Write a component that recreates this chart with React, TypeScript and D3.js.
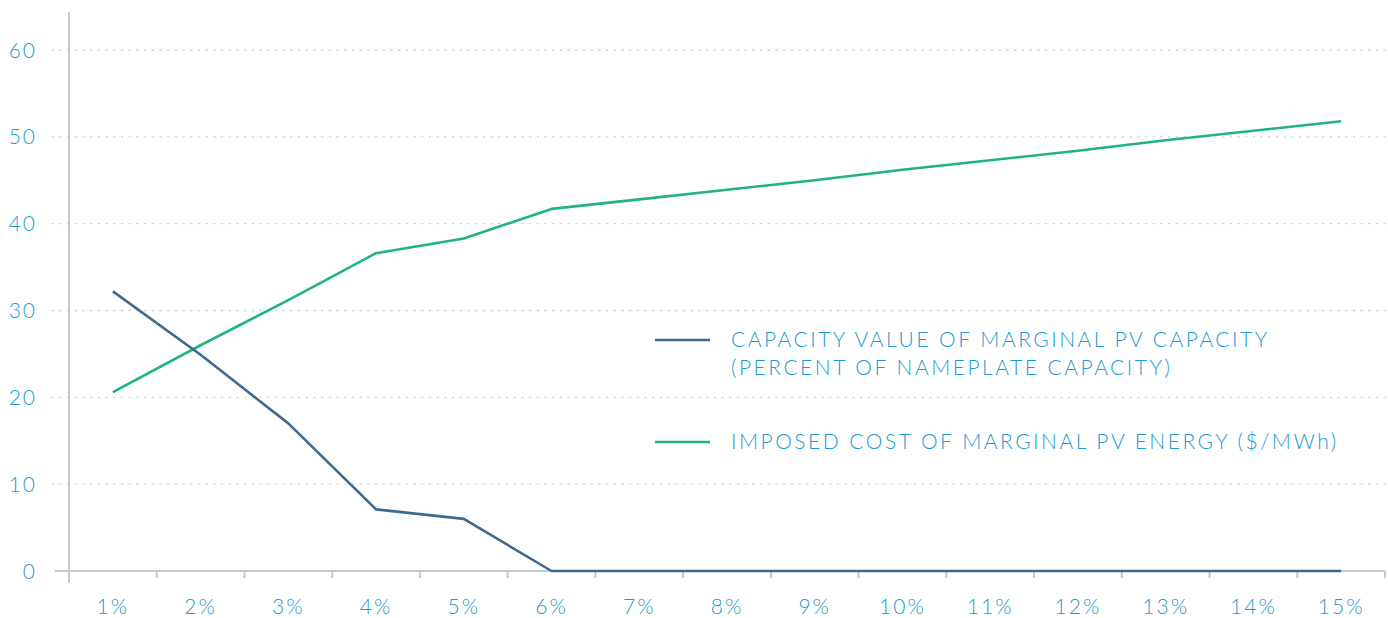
import React from "react";
import * as d3 from "d3";

// categories along the bottom
const penetration = ["1%", "2%", "3%", "4%", "5%", "6%", "7%", "8%", "9%", "10%", "11%", "12%", "13%", "14%", "15%"];

// capacity value of marginal PV capacity (% of nameplate)
const capacityValue = [32.2, 24.9, 17.0, 7.1, 6.0, 0, 0, 0, 0, 0, 0, 0, 0, 0, 0];

// imposed cost of marginal PV energy ($/MWh)
const imposedCost = [20.6, 26.0, 31.2, 36.6, 38.3, 41.7, 42.8, 43.9, 45.0, 46.2, 47.3, 48.4, 49.6, 50.7, 51.8];

const yTicks = [0, 10, 20, 30, 40, 50, 60];

const legendItems = [
  { lines: ["CAPACITY VALUE OF MARGINAL PV CAPACITY", "(PERCENT OF NAMEPLATE CAPACITY)"], color: "#3d6a8e" },
  { lines: ["IMPOSED COST OF MARGINAL PV ENERGY ($/MWh)"], color: "#22b57a" },
];

const W = 1388;
const H = 618;
const TEXT = "#1d9ad3";
const AXIS = "#c9c9d1";
const FONT = "Lato, 'Open Sans', sans-serif";

export default function App() {
  const x = d3.scaleBand<string>().domain(penetration).range([69, 1385]).padding(0);
  const y = d3.scaleLinear().domain([0, 60]).range([571, 50]);
  const cx = (c: string) => (x(c) ?? 0) + x.bandwidth() / 2;

  const line = d3
    .line<number>()
    .x((_, i) => cx(penetration[i]))
    .y((d) => y(d));

  return (
    <svg width={W} height={H} style={{ position: "absolute", left: 0, top: 0, background: "#fff" }} fontFamily={FONT}>
      {/* dotted gridlines */}
      {yTicks.slice(1).map((t) => (
        <line key={t} x1={52} x2={W} y1={y(t)} y2={y(t)} stroke="#d4d4d4" strokeWidth={1.4} strokeDasharray="1.4 6.3" strokeLinecap="round" />
      ))}

      {/* axes */}
      <line x1={69} x2={69} y1={12} y2={583} stroke={AXIS} strokeWidth={2} />
      <line x1={55} x2={1385} y1={y(0)} y2={y(0)} stroke={AXIS} strokeWidth={2} />
      {penetration.map((c) => (
        <line key={c} x1={(x(c) ?? 0) + x.bandwidth()} x2={(x(c) ?? 0) + x.bandwidth()} y1={y(0)} y2={y(0) + 7} stroke={AXIS} strokeWidth={2} />
      ))}

      {/* y tick labels */}
      {yTicks.map((t) => (
        <text key={t} x={37} y={y(t)} dy="0.36em" textAnchor="end" fill={TEXT} fontSize={21} fontWeight={300} letterSpacing={2}>
          {t}
        </text>
      ))}

      {/* x tick labels */}
      {penetration.map((c) => (
        <text key={c} x={cx(c)} y={614} textAnchor="middle" fill={TEXT} fontSize={21} fontWeight={300} letterSpacing={2}>
          {c}
        </text>
      ))}

      {/* series */}
      <path d={line(imposedCost) ?? ""} fill="none" stroke="#22b57a" strokeWidth={2.6} strokeLinejoin="round" />
      <path d={line(capacityValue) ?? ""} fill="none" stroke="#3d6a8e" strokeWidth={2.6} strokeLinejoin="round" />

      {/* legend */}
      {legendItems.map((item, i) => {
        const top = i === 0 ? 340 : 442;
        return (
          <g key={i}>
            <line x1={655} x2={710} y1={top} y2={top} stroke={item.color} strokeWidth={2.6} />
            {item.lines.map((ln, j) => (
              <text key={j} x={731} y={top + 7 + j * 28} fill={TEXT} fontSize={21} fontWeight={300} letterSpacing={2.5}>
                {ln}
              </text>
            ))}
          </g>
        );
      })}
    </svg>
  );
}
